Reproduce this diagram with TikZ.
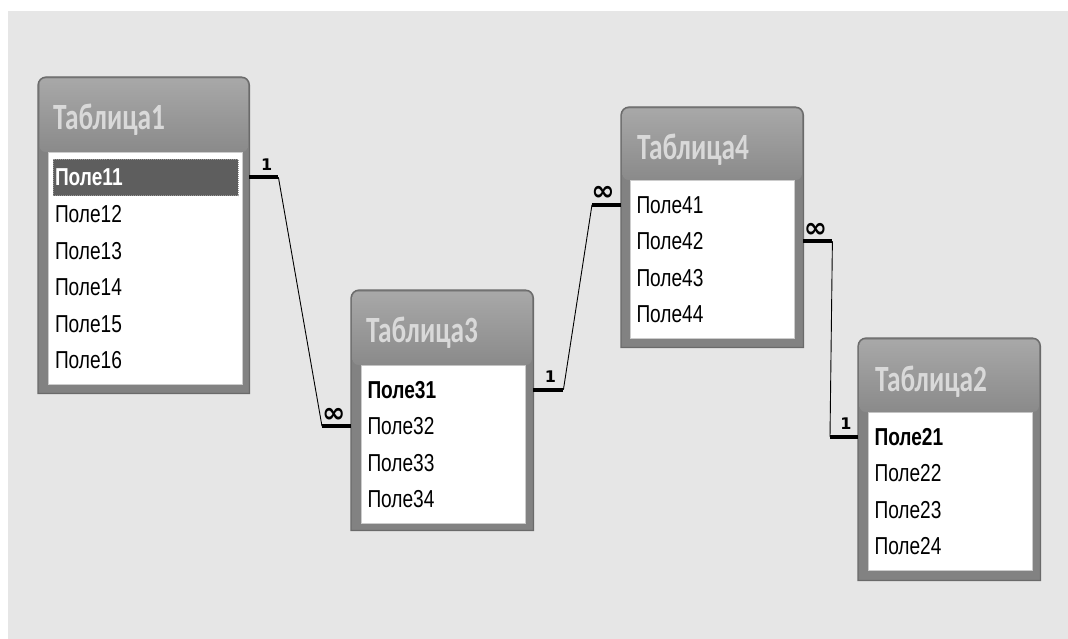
\documentclass[tikz,border=0pt]{standalone}
\usepackage{fontspec}
\usepackage{tikz}
\usetikzlibrary{matrix,positioning}
\newfontfamily\fieldfont[FakeStretch=0.78]{Liberation Sans}
\newfontfamily\titlefont[FakeStretch=0.74]{Carlito}
\newfontfamily\markfont{DejaVu Sans}
\definecolor{canvasgray}{HTML}{E6E6E6}
\definecolor{framegray}{HTML}{828282}
\definecolor{frameedge}{HTML}{6A6A6A}
\definecolor{headtop}{HTML}{A8A8A8}
\definecolor{headbot}{HTML}{8A8A8A}
\definecolor{titlegray}{HTML}{D9D9D9}
\definecolor{selgray}{HTML}{5E5E5E}

\tikzset{
  tabbox/.style={inner sep=0pt, minimum width=182pt, minimum height=240pt, anchor=north west},
  tabframe/.style={fill=framegray, draw=frameedge, line width=1.2pt},
  head/.style={top color=headtop, bottom color=headbot, rounded corners=6pt},
  tabtitle/.style={anchor=west, inner sep=0pt, text=titlegray, font=\titlefont\bfseries\fontsize{37}{38}\selectfont},
  fields/.style={matrix of nodes, fill=white, draw=gray!40, line width=1pt,
    inner xsep=4pt, inner ysep=6pt, row sep=0pt,
    nodes={text width=#1, align=left, inner xsep=2pt, inner ysep=0pt, minimum height=36.5pt,
      font=\fieldfont\fontsize{24.5}{26}\selectfont}},
  fields/.default=152pt,
  keyrow/.style={font=\fieldfont\bfseries\fontsize{24.5}{26}\selectfont},
  selrow/.style={fill=selgray, text=white, draw=gray!80, densely dotted, line width=1pt,
    font=\fieldfont\bfseries\fontsize{24.5}{26}\selectfont},
  rel/.style={line width=0.9pt},
  relend/.style={line width=4pt},
  onemark/.style={inner sep=0pt, yshift=13pt, font=\markfont\bfseries\fontsize{16}{16}\selectfont},
  manymark/.style={inner sep=0pt, yshift=11pt, font=\markfont\bfseries\fontsize{28}{28}\selectfont},
}

\begin{document}
\begin{tikzpicture}[x=1pt,y=-1pt]
  \useasboundingbox (0,0) rectangle (1068,639);
  \fill[white] (0,0) rectangle (1068,639);
  \fill[canvasgray] (8,11) rectangle (1068,639);

  % Таблица1
  \node[tabbox, minimum width=211pt, minimum height=316pt] (tab1) at (38,77) {};
  \path[tabframe] (tab1.south west) [rounded corners=8pt] -- (tab1.north west) -- (tab1.north east) [sharp corners] -- (tab1.south east) -- cycle;
  \matrix (t1) [fields=181pt, below right=75pt and 10pt of tab1.north west] {
    |[selrow]| Поле11 \\
    Поле12 \\
    Поле13 \\
    Поле14 \\
    Поле15 \\
    Поле16 \\
  };
  \shade[head] ([shift={(1.5pt,-1.5pt)}]tab1.north west) rectangle ([xshift=-1.5pt]tab1.east |- t1.north);
  \node[tabtitle] (tab1-title) at ([shift={(15pt,-43pt)}]tab1.north west) {Таблица1};

  % Таблица3
  \node[tabbox] (tab3) at (351,290) {};
  \path[tabframe] (tab3.south west) [rounded corners=8pt] -- (tab3.north west) -- (tab3.north east) [sharp corners] -- (tab3.south east) -- cycle;
  \matrix (t3) [fields, below right=75pt and 10pt of tab3.north west] {
    |[keyrow]| Поле31 \\
    Поле32 \\
    Поле33 \\
    Поле34 \\
  };
  \shade[head] ([shift={(1.5pt,-1.5pt)}]tab3.north west) rectangle ([xshift=-1.5pt]tab3.east |- t3.north);
  \node[tabtitle] (tab3-title) at ([shift={(15pt,-43pt)}]tab3.north west) {Таблица3};

  % Таблица4
  \node[tabbox] (tab4) at (621,107) {};
  \path[tabframe] (tab4.south west) [rounded corners=8pt] -- (tab4.north west) -- (tab4.north east) [sharp corners] -- (tab4.south east) -- cycle;
  \matrix (t4) [fields, below right=73pt and 9pt of tab4.north west] {
    Поле41 \\
    Поле42 \\
    Поле43 \\
    Поле44 \\
  };
  \shade[head] ([shift={(1.5pt,-1.5pt)}]tab4.north west) rectangle ([xshift=-1.5pt]tab4.east |- t4.north);
  \node[tabtitle] (tab4-title) at ([shift={(16pt,-43pt)}]tab4.north west) {Таблица4};

  % Таблица2
  \node[tabbox, minimum height=242pt] (tab2) at (858,338) {};
  \path[tabframe] (tab2.south west) [rounded corners=8pt] -- (tab2.north west) -- (tab2.north east) [sharp corners] -- (tab2.south east) -- cycle;
  \matrix (t2) [fields, below right=74pt and 10pt of tab2.north west] {
    |[keyrow]| Поле21 \\
    Поле22 \\
    Поле23 \\
    Поле24 \\
  };
  \shade[head] ([shift={(1.5pt,-1.5pt)}]tab2.north west) rectangle ([xshift=-1.5pt]tab2.east |- t2.north);
  \node[tabtitle] (tab2-title) at ([shift={(17pt,-44pt)}]tab2.north west) {Таблица2};

  % links: thick ends at the tables, thin line between them
  \draw[relend] (tab1.east |- t1-1-1) -- ++(29pt,0pt) node[onemark, pos=0.6] {1} coordinate (r1a);
  \draw[relend] (tab3.west |- t3-2-1) -- ++(-29pt,0pt) node[manymark, pos=0.59] {∞} coordinate (r1b);
  \draw[rel] (r1a) -- (r1b);

  \draw[relend] (tab3.east |- t3-1-1) -- ++(30pt,0pt) node[onemark, pos=0.57] {1} coordinate (r2a);
  \draw[relend] (tab4.west |- t4-1-1) -- ++(-29pt,0pt) node[manymark, pos=0.62] {∞} coordinate (r2b);
  \draw[rel] (r2a) -- (r2b);

  \draw[relend] (tab4.east |- t4-2-1) -- ++(29pt,0pt) node[manymark, pos=0.42] {∞} coordinate (r3a);
  \draw[relend] (tab2.west |- t2-1-1) -- ++(-28pt,0pt) node[onemark, pos=0.43] {1} coordinate (r3b);
  \draw[rel] (r3a) -- (r3b);
\end{tikzpicture}
\end{document}
